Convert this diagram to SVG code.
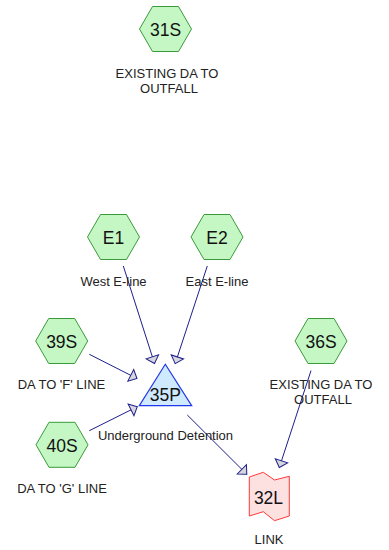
<svg xmlns="http://www.w3.org/2000/svg" xmlns:xlink="http://www.w3.org/1999/xlink" width="389" height="550" viewBox="0 0 389 550">
<style>
.hex{fill:#c4f7c4;stroke:#3a9a3a;stroke-width:1}
.pond{fill:#cfe9ff;stroke:#2038e8;stroke-width:1.2}
.link{fill:#fde0e0;stroke:#ff3a3a;stroke-width:1}
.id{font-family:"Liberation Sans",Arial,sans-serif;font-size:17.5px;fill:#111;text-anchor:middle}
.lbl{font-family:"Liberation Sans",Arial,sans-serif;font-size:13px;fill:#222;text-anchor:middle}
.con{fill:none;stroke:#1e1e8c;stroke-width:1;marker-end:url(#arr)}
</style>
<defs>
<polygon id="hexshape" points="-26,0 -13,-22.5 13,-22.5 26,0 13,22.5 -13,22.5"/>
<marker id="arr" markerUnits="userSpaceOnUse" viewBox="-9 -8 11 16" refX="0" refY="0" markerWidth="11" markerHeight="16" orient="auto" overflow="visible">
<path d="M0,0 L-7,-6.5 L-7,6.5 Z" fill="#d6d6dc" stroke="#1e1e8c" stroke-width="1" stroke-linejoin="miter"/>
</marker>
</defs>
<rect width="389" height="550" fill="#ffffff"/>
<g id="connectors">
<path class="con" d="M123.3,266 L154.5,363.5"/>
<path class="con" d="M207.3,266 L175.2,363.6"/>
<path class="con" d="M89.3,354.3 L137,378.5"/>
<path class="con" d="M89.3,430.7 L137.3,406.7"/>
<path class="con" d="M187.3,415 L246.8,474.3"/>
<path class="con" d="M311,370.6 L279.3,467.5"/>
</g>
<g id="n31S">
<use xlink:href="#hexshape" class="hex" x="165.5" y="29"/>
<text class="id" x="165.5" y="35.5">31S</text>
<text class="lbl" x="167" y="77.5">EXISTING DA TO</text>
<text class="lbl" x="169" y="92.5">OUTFALL</text>
</g>
<g id="nE1">
<use xlink:href="#hexshape" class="hex" x="113.5" y="237"/>
<text class="id" x="113.5" y="243.5">E1</text>
<text class="lbl" x="113.5" y="286">West E-line</text>
</g>
<g id="nE2">
<use xlink:href="#hexshape" class="hex" x="217" y="237"/>
<text class="id" x="217" y="243.5">E2</text>
<text class="lbl" x="217" y="286">East E-line</text>
</g>
<g id="n39S">
<use xlink:href="#hexshape" class="hex" x="61.7" y="341"/>
<text class="id" x="61.7" y="347.5">39S</text>
<text class="lbl" x="61.5" y="388.5">DA TO 'F' LINE</text>
</g>
<g id="n40S">
<use xlink:href="#hexshape" class="hex" x="62" y="444.8"/>
<text class="id" x="62" y="451.5">40S</text>
<text class="lbl" x="62" y="492.5">DA TO 'G' LINE</text>
</g>
<g id="n36S">
<use xlink:href="#hexshape" class="hex" x="321" y="341"/>
<text class="id" x="321" y="347.5">36S</text>
<text class="lbl" x="321" y="388.5">EXISTING DA TO</text>
<text class="lbl" x="323" y="404">OUTFALL</text>
</g>
<g id="n35P">
<polygon class="pond" points="165.3,364.3 191.7,405.7 139.3,405.7"/>
<text class="id" x="165.3" y="400.5">35P</text>
<text class="lbl" x="165.5" y="440">Underground Detention</text>
</g>
<g id="n32L">
<polygon class="link" points="249.3,477 263.3,472.3 274.5,480 289.3,476.3 289.3,516 274.5,520.7 263.3,511.7 249.3,516"/>
<text class="id" x="268.5" y="503.5">32L</text>
<text class="lbl" x="269" y="544">LINK</text>
</g>
</svg>
